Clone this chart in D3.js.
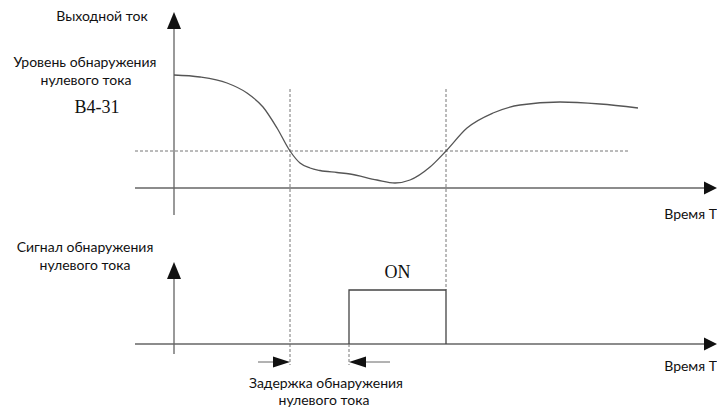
<!DOCTYPE html>
<html>
<head>
<meta charset="utf-8">
<script src="https://cdn.jsdelivr.net/npm/d3@7"></script>
<style>
  html, body { margin: 0; padding: 0; background: #fff; }
  svg { display: block; }
  .lbl { font-family: Lato, "Open Sans", sans-serif; font-size: 14px; fill: #111; }
  .serif { font-family: "Liberation Serif", "DejaVu Serif", serif; font-size: 18px; fill: #111; }
</style>
</head>
<body>
<svg id="chart" width="717" height="408"></svg>
<script>
// Output current trace (time, current) and detection settings
const timeValues    = [0, 2.6, 5.3, 7.3, 8.9, 10.3, 11.6, 12.6, 13.6, 14.6, 16.3, 17.6, 20.3, 22.1, 23.6, 25.6, 27.2, 29.3, 31.9, 34.6, 38.6, 42.6, 46.4];
const currentValues = [11.3, 11.1, 10.5, 9.5, 8.1, 6.0, 3.7, 2.5, 2.0, 1.75, 1.55, 1.4, 0.8, 0.5, 0.8, 2.1, 3.7, 6.0, 7.5, 8.3, 8.6, 8.4, 8.0];
const thresholdLevel = [3.7];          // zero-current detection level (B4-31)
const thresholdSpan  = [-3.9, 45.4];   // extent of the dashed level line
const crossTimes     = [11.6, 27.2];   // current falls below / rises above level
const signalOnOff    = [17.5, 27.2];   // detection signal ON interval (after delay)
const signalLevels   = [0, 1];         // OFF / ON

const svg = d3.select("#chart");

// Shared time axis
const x = d3.scaleLinear().domain([-3.9, 54.3]).range([135, 717]);
// Upper panel: output current
const yTop = d3.scaleLinear().domain([0, 17.6]).range([188, 12]);
// Lower panel: detection signal
const yBot = d3.scaleLinear().domain([0, 1, 1.52]).range([344, 290, 262]);

const axisColor = "#666";
const arrowHead = (tipX, tipY, dir, len = 13, half = 6.5) => {
  if (dir === "up") return `M${tipX},${tipY}L${tipX - half},${tipY + len}L${tipX + half},${tipY + len}Z`;
  if (dir === "right") return `M${tipX},${tipY}L${tipX - len},${tipY - half}L${tipX - len},${tipY + half}Z`;
  return `M${tipX},${tipY}L${tipX + len},${tipY - half}L${tipX + len},${tipY + half}Z`;
};

// ---------- Upper panel ----------
// Vertical crossing markers (run through both panels)
svg.append("g").selectAll("line").data(crossTimes).join("line")
  .attr("x1", d => x(d)).attr("x2", d => x(d))
  .attr("y1", yTop(9.9)).attr("y2", d => d === crossTimes[0] ? 365 : yBot(1))
  .attr("stroke", "#777").attr("stroke-width", 1).attr("stroke-dasharray", "3,2");

// Threshold level
svg.append("line")
  .attr("x1", x(thresholdSpan[0])).attr("x2", x(thresholdSpan[1]))
  .attr("y1", yTop(thresholdLevel[0])).attr("y2", yTop(thresholdLevel[0]))
  .attr("stroke", "#777").attr("stroke-width", 1).attr("stroke-dasharray", "3,2");

// Axes
svg.append("line")
  .attr("x1", x(0)).attr("x2", x(0)).attr("y1", yTop(16)).attr("y2", 215)
  .attr("stroke", "#999").attr("stroke-width", 2);
svg.append("path").attr("d", arrowHead(x(0), yTop(17.6), "up", 17, 7)).attr("fill", "#111");
svg.append("line")
  .attr("x1", x(-3.9)).attr("x2", x(53)).attr("y1", yTop(0)).attr("y2", yTop(0))
  .attr("stroke", axisColor).attr("stroke-width", 1.3);
svg.append("path").attr("d", arrowHead(x(54.3), yTop(0), "right", 13, 6.5)).attr("fill", "#111");

// Current curve
const curvePts = timeValues.map((t, i) => [t, currentValues[i]]);
svg.append("path")
  .datum(curvePts)
  .attr("d", d3.line().x(d => x(d[0])).y(d => yTop(d[1])).curve(d3.curveMonotoneX))
  .attr("fill", "none").attr("stroke", "#555").attr("stroke-width", 1.3);

// Labels
svg.append("text").attr("class", "lbl").attr("x", 102).attr("y", 21).attr("text-anchor", "middle").text("Выходной ток");
svg.append("text").attr("class", "lbl").attr("x", 85).attr("y", 67).attr("text-anchor", "middle").text("Уровень обнаружения");
svg.append("text").attr("class", "lbl").attr("x", 86).attr("y", 85).attr("text-anchor", "middle").text("нулевого тока");
svg.append("text").attr("class", "serif").attr("x", 97).attr("y", 113).attr("text-anchor", "middle").text("B4-31");
svg.append("text").attr("class", "lbl").attr("x", 717).attr("y", 219).attr("text-anchor", "end").text("Время T");

// ---------- Lower panel ----------
svg.append("line")
  .attr("x1", x(0)).attr("x2", x(0)).attr("y1", yBot(1.3)).attr("y2", 354)
  .attr("stroke", "#999").attr("stroke-width", 2);
svg.append("path").attr("d", arrowHead(x(0), yBot(1.52), "up", 17, 7)).attr("fill", "#111");
svg.append("line")
  .attr("x1", x(-3.9)).attr("x2", x(53)).attr("y1", yBot(0)).attr("y2", yBot(0))
  .attr("stroke", axisColor).attr("stroke-width", 1.3);
svg.append("path").attr("d", arrowHead(x(54.3), yBot(0), "right", 13, 6.5)).attr("fill", "#111");

// Dashed continuation below the signal rising edge
svg.append("line")
  .attr("x1", x(signalOnOff[0])).attr("x2", x(signalOnOff[0]))
  .attr("y1", yBot(0)).attr("y2", 365)
  .attr("stroke", "#777").attr("stroke-width", 1).attr("stroke-dasharray", "3,2");

// Signal pulse
const pulsePts = [
  [signalOnOff[0], signalLevels[0]],
  [signalOnOff[0], signalLevels[1]],
  [signalOnOff[1], signalLevels[1]],
  [signalOnOff[1], signalLevels[0]]
];
svg.append("path")
  .datum(pulsePts)
  .attr("d", d3.line().x(d => x(d[0])).y(d => yBot(d[1])))
  .attr("fill", "none").attr("stroke", "#444").attr("stroke-width", 1.3);

svg.append("text").attr("class", "serif")
  .attr("x", x((signalOnOff[0] + signalOnOff[1]) / 2)).attr("y", 278)
  .attr("text-anchor", "middle").text("ON");

// Delay arrows
const arrowY = 362;
svg.append("line").attr("x1", x(8.4)).attr("x2", x(crossTimes[0]) - 10)
  .attr("y1", arrowY).attr("y2", arrowY).attr("stroke", "#666").attr("stroke-width", 1);
svg.append("path").attr("d", arrowHead(x(crossTimes[0]), arrowY, "right", 17, 5.5)).attr("fill", "#111");
svg.append("line").attr("x1", x(signalOnOff[0]) + 10).attr("x2", x(21.6))
  .attr("y1", arrowY).attr("y2", arrowY).attr("stroke", "#666").attr("stroke-width", 1);
svg.append("path").attr("d", arrowHead(x(signalOnOff[0]), arrowY, "left", 17, 5.5)).attr("fill", "#111");

// Labels
svg.append("text").attr("class", "lbl").attr("x", 85).attr("y", 252).attr("text-anchor", "middle").text("Сигнал обнаружения");
svg.append("text").attr("class", "lbl").attr("x", 85).attr("y", 270).attr("text-anchor", "middle").text("нулевого тока");
svg.append("text").attr("class", "lbl").attr("x", 717).attr("y", 371).attr("text-anchor", "end").text("Время T");
svg.append("text").attr("class", "lbl").attr("x", 326).attr("y", 388).attr("text-anchor", "middle").text("Задержка обнаружения");
svg.append("text").attr("class", "lbl").attr("x", 324).attr("y", 405).attr("text-anchor", "middle").text("нулевого тока");
</script>
</body>
</html>
